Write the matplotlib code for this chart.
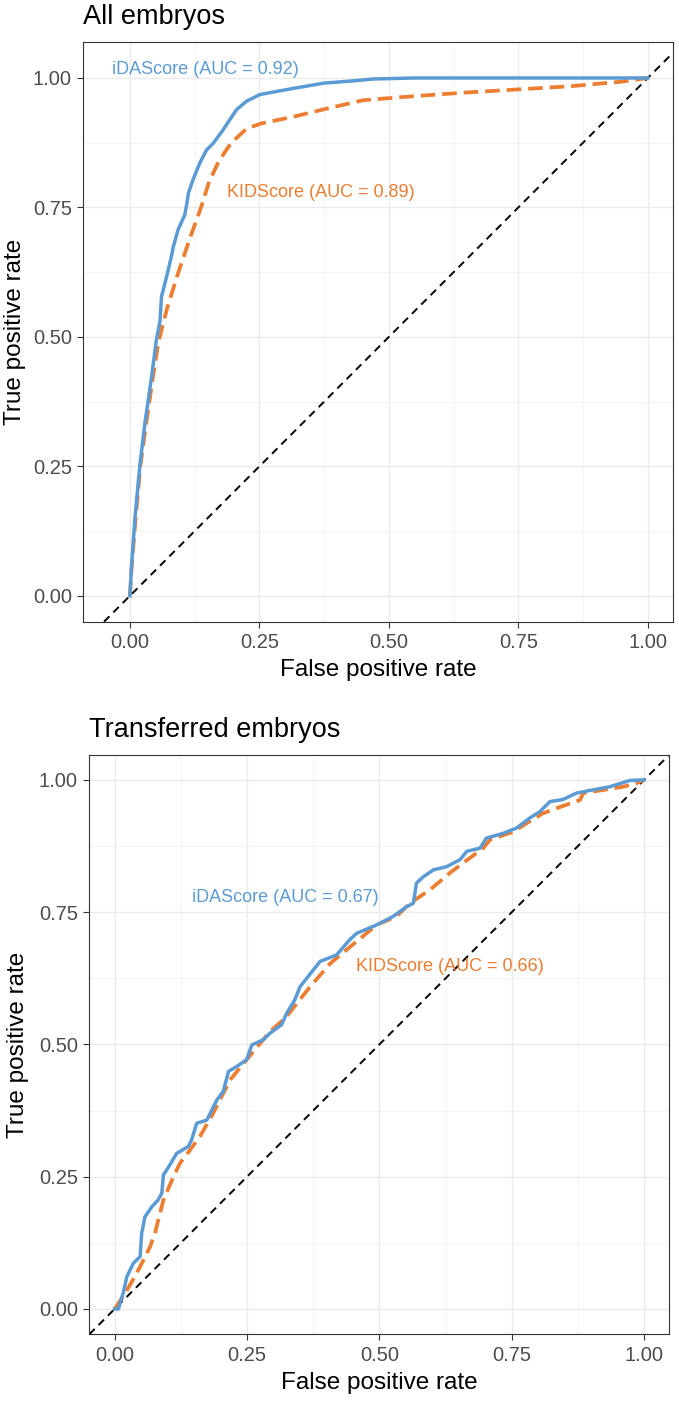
import numpy as np
import matplotlib
matplotlib.use("Agg")
import matplotlib.pyplot as plt

plt.rcParams['font.family'] = ['Liberation Sans', 'DejaVu Sans']
plt.rcParams['lines.scale_dashes'] = False

# ROC points (FPR, TPR)
all_fpr_ida = [0, 0.003, 0.010, 0.019, 0.029, 0.042, 0.051, 0.058, 0.061, 0.071, 0.080, 0.084, 0.093,
               0.106, 0.110, 0.113, 0.122, 0.135, 0.148, 0.161, 0.180, 0.206, 0.225, 0.251, 0.283,
               0.322, 0.374, 0.438, 0.470, 0.55, 1.0]
all_tpr_ida = [0, 0.056, 0.153, 0.250, 0.334, 0.424, 0.494, 0.530, 0.578, 0.617, 0.655, 0.675, 0.707,
               0.736, 0.758, 0.778, 0.804, 0.836, 0.861, 0.874, 0.900, 0.939, 0.955, 0.968, 0.974,
               0.981, 0.990, 0.995, 0.998, 1.0, 1.0]
all_fpr_kid = [0, 0.003, 0.011, 0.020, 0.031, 0.044, 0.055, 0.072, 0.093, 0.116, 0.137, 0.153, 0.172,
               0.195, 0.225, 0.253, 0.319, 0.385, 0.450, 0.55, 0.65, 0.75, 0.85, 0.95, 1.0]
all_tpr_kid = [0, 0.050, 0.150, 0.250, 0.330, 0.420, 0.490, 0.556, 0.623, 0.691, 0.749, 0.800, 0.840,
               0.874, 0.902, 0.912, 0.926, 0.942, 0.957, 0.965, 0.972, 0.978, 0.984, 0.993, 1.0]

tr_fpr_ida = [0, 0.007, 0.016, 0.023, 0.035, 0.048, 0.051, 0.057, 0.070, 0.082, 0.089, 0.092, 0.104,
              0.117, 0.139, 0.145, 0.155, 0.174, 0.193, 0.205, 0.215, 0.230, 0.249, 0.259, 0.281,
              0.293, 0.315, 0.325, 0.340, 0.350, 0.388, 0.419, 0.444, 0.457, 0.495, 0.526, 0.551,
              0.564, 0.570, 0.583, 0.602, 0.627, 0.652, 0.665, 0.690, 0.702, 0.734, 0.759, 0.784,
              0.803, 0.822, 0.847, 0.872, 0.897, 0.935, 0.973, 1.0]
tr_tpr_ida = [0, 0, 0.030, 0.061, 0.086, 0.099, 0.143, 0.174, 0.193, 0.206, 0.219, 0.253, 0.272,
              0.294, 0.307, 0.319, 0.351, 0.357, 0.395, 0.411, 0.449, 0.458, 0.471, 0.499, 0.509,
              0.521, 0.537, 0.559, 0.584, 0.609, 0.657, 0.669, 0.698, 0.710, 0.726, 0.742, 0.760,
              0.767, 0.805, 0.817, 0.830, 0.836, 0.849, 0.865, 0.871, 0.890, 0.899, 0.909, 0.928,
              0.940, 0.959, 0.963, 0.975, 0.980, 0.987, 0.999, 1.0]
tr_fpr_kid = [0, 0.016, 0.038, 0.051, 0.067, 0.076, 0.092, 0.111, 0.123, 0.142, 0.161, 0.186, 0.218,
              0.249, 0.293, 0.324, 0.369, 0.407, 0.444, 0.495, 0.532, 0.558, 0.595, 0.633, 0.658,
              0.696, 0.709, 0.753, 0.778, 0.809, 0.853, 0.879, 0.885, 0.923, 0.960, 0.986, 1.0]
tr_tpr_kid = [0, 0.024, 0.061, 0.086, 0.118, 0.143, 0.206, 0.250, 0.275, 0.300, 0.326, 0.370, 0.433,
              0.471, 0.524, 0.552, 0.609, 0.653, 0.684, 0.726, 0.742, 0.767, 0.792, 0.824, 0.843,
              0.871, 0.887, 0.902, 0.918, 0.937, 0.953, 0.962, 0.975, 0.981, 0.987, 0.994, 1.0]

titles = ["All embryos", "Transferred embryos"]
auc_ida = [0.92, 0.67]
auc_kid = [0.89, 0.66]
ticks = [0, 0.25, 0.5, 0.75, 1.0]
tick_labels = ["0.00", "0.25", "0.50", "0.75", "1.00"]

blue = "#5B9BD5"
orange = "#ED7D31"

fig = plt.figure(figsize=(6.79, 14.05), dpi=100)
ax1 = fig.add_axes([0.1227, 0.5575, 0.868, 0.4128])
ax2 = fig.add_axes([0.1315, 0.0503, 0.8538, 0.4123])

panels = [
    (ax1, all_fpr_ida, all_tpr_ida, all_fpr_kid, all_tpr_kid, (-0.09, 1.048), (-0.05, 1.07),
     (0.146, 1.017), (0.368, 0.778), -0.097),
    (ax2, tr_fpr_ida, tr_tpr_ida, tr_fpr_kid, tr_tpr_kid, (-0.048, 1.047), (-0.048, 1.047),
     (0.322, 0.778), (0.633, 0.647), -0.104),
]

for i, (ax, fi, ti, fk, tk, xl, yl, pos_i, pos_k, ylab_x) in enumerate(panels):
    ax.set_xlim(*xl)
    ax.set_ylim(*yl)
    # ggplot-ish grid
    ax.set_xticks(ticks)
    ax.set_yticks(ticks)
    ax.set_xticks([0.125, 0.375, 0.625, 0.875], minor=True)
    ax.set_yticks([0.125, 0.375, 0.625, 0.875], minor=True)
    ax.set_xticklabels(tick_labels)
    ax.set_yticklabels(tick_labels)
    ax.grid(which='major', color='#EBEBEB', linewidth=1.0)
    ax.grid(which='minor', color='#F2F2F2', linewidth=0.6)
    ax.set_axisbelow(True)
    ax.tick_params(which='major', length=4.3, width=0.8, color='#333333',
                   labelsize=14.5, labelcolor='#4D4D4D', pad=4)
    ax.tick_params(which='minor', length=0)
    for s in ax.spines.values():
        s.set_color('#333333')
        s.set_linewidth(0.8)

    ax.axline((0, 0), (1, 1), color='black', linewidth=1.4, linestyle=(0, (5.5, 4)))
    ax.plot(fk, tk, color=orange, linewidth=2.7, dashes=(10.5, 5), solid_capstyle='butt')
    ax.plot(fi, ti, color=blue, linewidth=2.5)

    ax.text(pos_i[0], pos_i[1], "iDAScore (AUC = %.2f)" % auc_ida[i], color=blue,
            fontsize=13, ha='center', va='center')
    ax.text(pos_k[0], pos_k[1], "KIDScore (AUC = %.2f)" % auc_kid[i], color=orange,
            fontsize=13, ha='center', va='center')

    ax.set_title(titles[i], loc='left', fontsize=19.5, pad=13)
    ax.set_xlabel("False positive rate", fontsize=17.5, labelpad=5)
    ax.set_ylabel("True positive rate", fontsize=17.5)
    ax.yaxis.set_label_coords(ylab_x, 0.5)

plt.savefig("out.png", dpi=100)
plt.close('all')
